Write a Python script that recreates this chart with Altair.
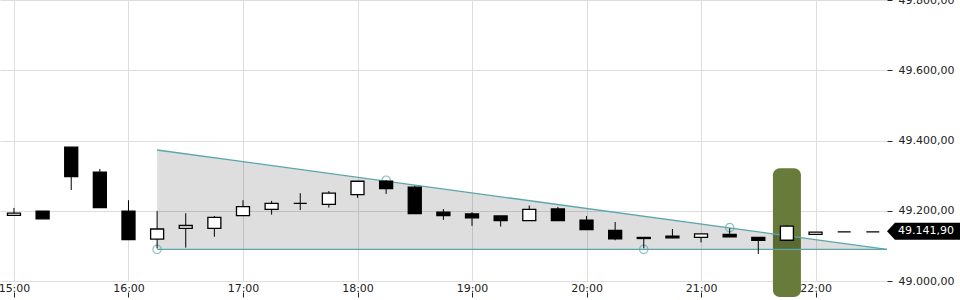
import altair as alt
import pandas as pd

# ---- data ----
times = ["15:00", "15:15", "15:30", "15:45", "16:00", "16:15", "16:30", "16:45",
         "17:00", "17:15", "17:30", "17:45", "18:00", "18:15", "18:30", "18:45",
         "19:00", "19:15", "19:30", "19:45", "20:00", "20:15", "20:30", "20:45",
         "21:00", "21:15", "21:30", "21:45", "22:00", "22:15", "22:30"]
open_ = [49187, 49199, 49381, 49310, 49199, 49119, 49150, 49150,
         49186, 49204, 49221, 49218, 49246, 49284, 49267, 49196,
         49191, 49185, 49172, 49205, 49173, 49144, 49124, 49128,
         49124, 49133, 49124, 49116, 49133, 49140, 49140]
high = [49208, 49199, 49381, 49319, 49230, 49199, 49193, 49185,
        49230, 49228, 49250, 49256, 49284, 49287, 49271, 49205,
        49196, 49185, 49215, 49211, 49185, 49168, 49124, 49148,
        49134, 49150, 49124, 49159, 49139, 49140, 49140]
low = [49187, 49177, 49259, 49209, 49118, 49093, 49095, 49126,
       49186, 49189, 49202, 49209, 49237, 49248, 49192, 49174,
       49157, 49155, 49172, 49172, 49146, 49116, 49093, 49122,
       49110, 49126, 49077, 49116, 49133, 49140, 49140]
close = [49193, 49177, 49297, 49209, 49118, 49148, 49158, 49181,
         49212, 49221, 49221, 49250, 49284, 49263, 49192, 49186,
         49180, 49172, 49204, 49172, 49146, 49120, 49121, 49123,
         49134, 49126, 49116, 49156, 49139, 49140, 49140]

# triangle pattern (upper falling line, lower flat line)
tri_times = ["16:15", "22:37.4"]
tri_upper = [49373, 49090]
tri_lower = [49090, 49090]

# pivot markers on the pattern lines
pivot_times = ["16:15", "18:15", "20:30", "21:15"]
pivot_values = [49090, 49287, 49090, 49152]

# highlighted candle
hl_time = ["21:45"]
hl_top = [49321]
hl_bottom = [48954.5]

last_price = 49141.90

x_ticks = [15, 16, 17, 18, 19, 20, 21, 22]
y_ticks = [49000, 49200, 49400, 49600, 49800]

X_DOMAIN = [14.878, 22.624]
Y_DOMAIN = [49000, 49800]


def to_h(t):
    h, m = t.split(":")
    return int(h) + float(m) / 60


def de_fmt(v):
    s = f"{v:,.2f}"
    return s.replace(",", "#").replace(".", ",").replace("#", ".")


df = pd.DataFrame({"t": [to_h(t) for t in times], "open": open_, "high": high,
                   "low": low, "close": close})
df["up"] = df["close"] >= df["open"]

tri = pd.DataFrame({"t": [to_h(t) for t in tri_times], "upper": tri_upper, "lower": tri_lower})
piv = pd.DataFrame({"t": [to_h(t) for t in pivot_times], "v": pivot_values})
hl = pd.DataFrame({"t": [to_h(t) for t in hl_time], "top": hl_top, "bottom": hl_bottom})
lp = pd.DataFrame({"p": [last_price], "label": [de_fmt(last_price)]})

xs = alt.Scale(domain=X_DOMAIN, nice=False, zero=False, padding=0)
ys = alt.Scale(domain=Y_DOMAIN, nice=False, zero=False, padding=0)

TEAL = "#5aa6ab"
FONT = "DejaVu Sans"

x_axis = alt.Axis(values=x_ticks, grid=True, gridColor="#dddddd", domain=False,
                  tickColor="#222222", tickSize=5, offset=11, labelPadding=-15,
                  labelFlush=False, labelOverlap=False, labelFontSize=11,
                  labelColor="#222222", labelFont=FONT, title=None,
                  labelExpr="datum.value + ':00'")
y_axis = alt.Axis(values=y_ticks, orient="right", grid=True, gridColor="#dddddd",
                  domain=False, tickColor="#222222", tickSize=5, labelPadding=6,
                  labelFontSize=11, labelColor="#222222", labelFont=FONT, title=None,
                  labelFlush=False, labelOverlap=False,
                  labelExpr="replace(replace(replace(format(datum.value, ',.2f'), ',', '#'), '.', ','), '#', '.')")


def X(f="t:Q"):
    return alt.X(f, scale=xs, axis=x_axis)


def Y(f):
    return alt.Y(f, scale=ys, axis=y_axis)


box = alt.Chart(hl).mark_bar(size=28, cornerRadius=7, color="#687b3a").encode(
    x=X(), y=Y("top:Q"), y2="bottom:Q",
)
area = alt.Chart(tri).mark_area(color="#000000", opacity=0.13).encode(
    x=X(), y=Y("upper:Q"), y2="lower:Q",
)
upper = alt.Chart(tri).mark_line(color=TEAL, strokeWidth=1.3).encode(
    x=X(), y=Y("upper:Q"),
)
lower = alt.Chart(tri).mark_line(color=TEAL, strokeWidth=1.3).encode(
    x=X(), y=Y("lower:Q"),
)
pivots = alt.Chart(piv).mark_point(shape="circle", size=70, filled=False,
                                   color=TEAL, strokeWidth=1.2).encode(
    x=X(), y=Y("v:Q"),
)
wicks = alt.Chart(df).mark_rule(color="black", strokeWidth=1).encode(
    x=X(), y=Y("low:Q"), y2="high:Q",
)
bodies = alt.Chart(df).mark_bar(size=13, stroke="black", strokeWidth=1.3).encode(
    x=X(), y=Y("open:Q"), y2="close:Q",
    fill=alt.condition("datum.up", alt.value("white"), alt.value("black")),
)
tag = alt.Chart(lp).mark_point(
    shape="M -1 0 L -0.79 -0.224 L 1 -0.224 L 1 0.224 L -0.79 0.224 Z",
    filled=True, color="black", opacity=1, size=5776,
).encode(x=alt.value(925), y=Y("p:Q"))
tag_text = alt.Chart(lp).mark_text(align="left", baseline="middle", color="white",
                                   fontSize=11, font=FONT).encode(
    x=alt.value(898), y=Y("p:Q"), text="label:N")

chart = alt.layer(box, area, upper, lower, pivots, wicks, bodies, tag, tag_text).properties(
    width=887, height=281,
    autosize=alt.AutoSizeParams(type="none"),
    padding={"left": 0, "top": 0, "right": 73, "bottom": 19},
    background="white",
).configure_view(stroke=None)

chart.save("out.html", embed_options={"renderer": "svg", "actions": False})
